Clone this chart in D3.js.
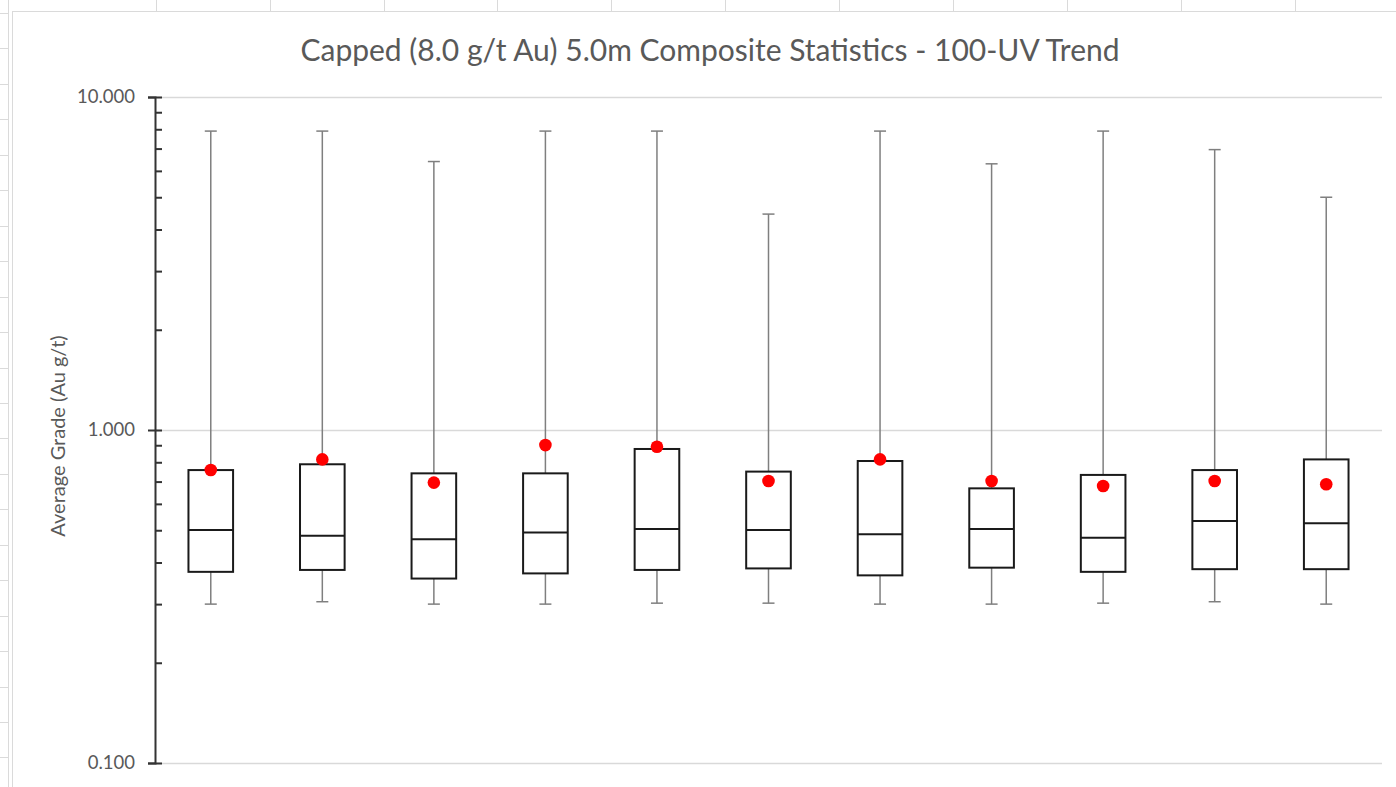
<!DOCTYPE html>
<html>
<head>
<meta charset="utf-8">
<script src="https://cdn.jsdelivr.net/npm/d3@7"></script>
<style>
    body { margin: 0; background: #ffffff; }
    svg { display: block; font-family: Lato, "Open Sans", sans-serif; }
</style>
</head>
<body>
<script>
// box plot values (Au g/t)
const categories = ["1", "2", "3", "4", "5", "6", "7", "8", "9", "10", "11"];
const maxValues = [7.9, 7.9, 6.4, 7.9, 7.9, 4.45, 7.9, 6.3, 7.9, 6.95, 5.0];
const q3Values = [0.758, 0.789, 0.741, 0.741, 0.877, 0.750, 0.807, 0.668, 0.733, 0.758, 0.816];
const medianValues = [0.501, 0.481, 0.470, 0.492, 0.504, 0.501, 0.486, 0.504, 0.475, 0.533, 0.525];
const q1Values = [0.375, 0.380, 0.358, 0.371, 0.380, 0.384, 0.366, 0.386, 0.375, 0.382, 0.382];
const minValues = [0.300, 0.305, 0.300, 0.300, 0.302, 0.302, 0.300, 0.300, 0.302, 0.305, 0.300];
const meanValues = [0.758, 0.816, 0.695, 0.901, 0.891, 0.703, 0.816, 0.703, 0.679, 0.703, 0.687];
const majorTicks = [0.1, 1, 10];

const chartDimensions = {
    height: 787,
    width: 1396,
    margin: {
        top: 97,
        left: 155,
        bottom: 24,
        right: 14,
    }
}

const rows = categories.map((c, i) => ({
    name: c,
    max: maxValues[i],
    q3: q3Values[i],
    median: medianValues[i],
    q1: q1Values[i],
    min: minValues[i],
    mean: meanValues[i]
}));

let svg = d3.select("body")
    .append("svg")
    .attr("height", chartDimensions.height)
    .attr("width", chartDimensions.width);

// spreadsheet grid peeking out behind the chart object
const sheet = svg.append("g").attr("stroke", "#dadada").attr("stroke-width", 1);
d3.range(11).forEach(k => {
    let x = Math.round(155.7 + 113.9 * k) + 0.5;
    sheet.append("line").attr("x1", x).attr("x2", x).attr("y1", 0).attr("y2", 11);
});
d3.range(23).forEach(k => {
    let y = Math.round(13 + 35.45 * k) + 0.5;
    sheet.append("line").attr("x1", 0).attr("x2", 9).attr("y1", y).attr("y2", y);
});
sheet.append("line").attr("x1", 8.5).attr("x2", 8.5).attr("y1", 0).attr("y2", 787);
sheet.append("line").attr("x1", 12.5).attr("x2", 12.5).attr("y1", 11).attr("y2", 787);
sheet.append("line").attr("x1", 12).attr("x2", 1396).attr("y1", 11.5).attr("y2", 11.5);

const x = d3.scaleBand()
    .domain(categories)
    .range([chartDimensions.margin.left, chartDimensions.width - chartDimensions.margin.right])
    .padding(0);

const y = d3.scaleLog()
    .domain([0.1, 10])
    .range([chartDimensions.height - chartDimensions.margin.bottom, chartDimensions.margin.top]);

const boxWidth = x.bandwidth() * 0.4;
const capWidth = 12;
const cx = d => x(d.name) + x.bandwidth() / 2;

svg.append("text")
    .attr("id", "title")
    .attr("x", 710)
    .attr("y", 61)
    .attr("text-anchor", "middle")
    .style("font-size", "30px")
    .style("fill", "#595959")
    .text("Capped (8.0 g/t Au) 5.0m Composite Statistics - 100-UV Trend");

// gridlines
svg.append("g")
    .selectAll("line")
    .data(majorTicks)
    .enter()
    .append("line")
    .attr("x1", chartDimensions.margin.left)
    .attr("x2", chartDimensions.width - chartDimensions.margin.right)
    .attr("y1", d => Math.round(y(d)) + 0.5)
    .attr("y2", d => Math.round(y(d)) + 0.5)
    .style("stroke", "#d9d9d9")
    .style("stroke-width", 1.5);

let boxes = svg.append("g")
    .selectAll("g")
    .data(rows)
    .enter()
    .append("g");

// whiskers
boxes.append("line")
    .attr("x1", cx).attr("x2", cx)
    .attr("y1", d => y(d.max)).attr("y2", d => y(d.q3))
    .style("stroke", "#7f7f7f").style("stroke-width", 1.5);
boxes.append("line")
    .attr("x1", cx).attr("x2", cx)
    .attr("y1", d => y(d.q1)).attr("y2", d => y(d.min))
    .style("stroke", "#7f7f7f").style("stroke-width", 1.5);
boxes.append("line")
    .attr("x1", d => cx(d) - capWidth / 2).attr("x2", d => cx(d) + capWidth / 2)
    .attr("y1", d => y(d.max)).attr("y2", d => y(d.max))
    .style("stroke", "#7f7f7f").style("stroke-width", 1.5);
boxes.append("line")
    .attr("x1", d => cx(d) - capWidth / 2).attr("x2", d => cx(d) + capWidth / 2)
    .attr("y1", d => y(d.min)).attr("y2", d => y(d.min))
    .style("stroke", "#7f7f7f").style("stroke-width", 1.5);

// boxes and medians
boxes.append("rect")
    .attr("x", d => cx(d) - boxWidth / 2)
    .attr("width", boxWidth)
    .attr("y", d => y(d.q3))
    .attr("height", d => y(d.q1) - y(d.q3))
    .style("fill", "white")
    .style("stroke", "#1a1a1a")
    .style("stroke-width", 2);
boxes.append("line")
    .attr("x1", d => cx(d) - boxWidth / 2).attr("x2", d => cx(d) + boxWidth / 2)
    .attr("y1", d => y(d.median)).attr("y2", d => y(d.median))
    .style("stroke", "#1a1a1a").style("stroke-width", 2);

// means
boxes.append("circle")
    .attr("cx", cx)
    .attr("cy", d => y(d.mean))
    .attr("r", 6.3)
    .style("fill", "#ff0000");

// y axis: major ticks with labels, minor ticks inside
const yAxis = svg.append("g")
    .attr("transform", "translate(" + chartDimensions.margin.left + ",0)")
    .call(d3.axisLeft(y).tickValues(majorTicks).tickSize(7).tickPadding(13).tickFormat(d3.format(".3f")));
yAxis.select(".domain").style("stroke", "#333").style("stroke-width", 2);
yAxis.selectAll(".tick line").attr("x1", 7).style("stroke", "#333").style("stroke-width", 2);
yAxis.selectAll(".tick text")
    .style("font-family", "Lato, sans-serif")
    .style("font-size", "18.5px")
    .style("fill", "#595959");

const minorTicks = y.ticks().filter(t => majorTicks.indexOf(t) < 0);
svg.append("g")
    .attr("transform", "translate(" + chartDimensions.margin.left + ",0)")
    .call(d3.axisRight(y).tickValues(minorTicks).tickSize(7).tickFormat(""))
    .call(g => g.select(".domain").remove())
    .selectAll(".tick line").style("stroke", "#333").style("stroke-width", 2);

svg.append("text")
    .attr("transform", "translate(65," + 436 + ") rotate(-90)")
    .attr("text-anchor", "middle")
    .style("font-size", "20px")
    .style("fill", "#595959")
    .text("Average Grade (Au g/t)");
</script>
</body>
</html>
